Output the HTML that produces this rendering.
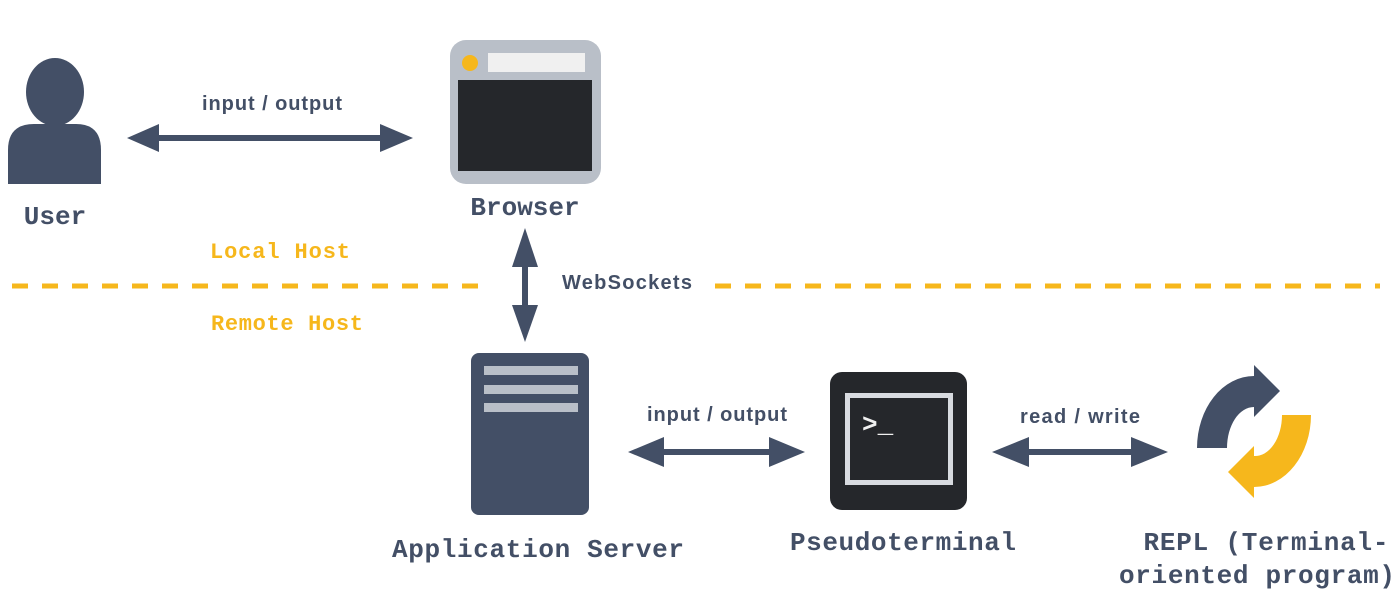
<!DOCTYPE html>
<html><head><style>html,body{margin:0;padding:0;background:#fff;}svg{display:block}</style></head>
<body>
<svg width="1400" height="607" viewBox="0 0 1400 607" xmlns="http://www.w3.org/2000/svg">
<!-- User -->
<ellipse cx="55" cy="92" rx="29" ry="34" fill="#434f66"/>
<path d="M8 184 V150 Q8 124 34 124 H76 Q101 124 101 150 V184 Z" fill="#434f66"/>
<text x="55" y="224" font-family="Liberation Mono, monospace" font-weight="bold" font-size="26" fill="#434f66" text-anchor="middle">User</text>
<!-- arrow user-browser -->
<rect x="155" y="135" width="225" height="6" fill="#434f66"/>
<polygon points="127,138 159,124 159,152" fill="#434f66"/>
<polygon points="413,138 380,124 380,152" fill="#434f66"/>
<text x="272" y="110" font-family="Liberation Sans, sans-serif" font-weight="bold" font-size="20" fill="#434f66" text-anchor="middle" textLength="140">input / output</text>
<!-- Browser -->
<rect x="450" y="40" width="151" height="144" rx="16" fill="#b9bfc8"/>
<circle cx="470" cy="63" r="8" fill="#f6b71c"/>
<rect x="488" y="53" width="97" height="19" fill="#f0f0f0"/>
<rect x="458" y="80" width="134" height="91" fill="#25272b"/>
<text x="525" y="215" font-family="Liberation Mono, monospace" font-weight="bold" font-size="26" fill="#434f66" text-anchor="middle">Browser</text>
<!-- vertical arrow -->
<rect x="522" y="255" width="6" height="62" fill="#434f66"/>
<polygon points="525,228 512,267 538,267" fill="#434f66"/>
<polygon points="525,342 512,305 538,305" fill="#434f66"/>
<text x="562" y="289" font-family="Liberation Sans, sans-serif" font-weight="bold" font-size="20" fill="#434f66" textLength="130">WebSockets</text>
<!-- dashes -->
<line x1="12" y1="286" x2="492" y2="286" stroke="#f6b71c" stroke-width="5" stroke-dasharray="16,14"/>
<line x1="715" y1="286" x2="1380" y2="286" stroke="#f6b71c" stroke-width="5" stroke-dasharray="16,14"/>
<text x="280" y="258" font-family="Liberation Mono, monospace" font-weight="bold" font-size="22" fill="#f6b71c" text-anchor="middle" textLength="140">Local Host</text>
<text x="287" y="330" font-family="Liberation Mono, monospace" font-weight="bold" font-size="22" fill="#f6b71c" text-anchor="middle" textLength="152">Remote Host</text>
<!-- Server -->
<rect x="471" y="353" width="118" height="162" rx="8" fill="#434f66"/>
<rect x="484" y="366" width="94" height="9" fill="#b9bfc8"/>
<rect x="484" y="385" width="94" height="9" fill="#b9bfc8"/>
<rect x="484" y="403" width="94" height="9" fill="#b9bfc8"/>
<text x="538" y="557" font-family="Liberation Mono, monospace" font-weight="bold" font-size="26" fill="#434f66" text-anchor="middle" textLength="292">Application Server</text>
<!-- arrow server-pty -->
<rect x="655" y="449" width="125" height="6" fill="#434f66"/>
<polygon points="628,452 664,437 664,467" fill="#434f66"/>
<polygon points="805,452 769,437 769,467" fill="#434f66"/>
<text x="717" y="421" font-family="Liberation Sans, sans-serif" font-weight="bold" font-size="20" fill="#434f66" text-anchor="middle" textLength="140">input / output</text>
<!-- Pseudoterminal -->
<rect x="830" y="372" width="137" height="138" rx="12" fill="#25272b"/>
<rect x="847.5" y="395.5" width="103" height="87" fill="none" stroke="#d8dbe0" stroke-width="5"/>
<text x="862" y="432" font-family="Liberation Mono, monospace" font-weight="bold" font-size="26" fill="#f0f0f0">&gt;_</text>
<text x="903" y="550" font-family="Liberation Mono, monospace" font-weight="bold" font-size="26" fill="#434f66" text-anchor="middle" textLength="226">Pseudoterminal</text>
<!-- arrow pty-repl -->
<rect x="1020" y="449" width="120" height="6" fill="#434f66"/>
<polygon points="992,452 1029,437 1029,467" fill="#434f66"/>
<polygon points="1168,452 1131,437 1131,467" fill="#434f66"/>
<text x="1080" y="423" font-family="Liberation Sans, sans-serif" font-weight="bold" font-size="20" fill="#434f66" text-anchor="middle" textLength="120">read / write</text>
<!-- REPL icon -->
<path d="M1197 448 A57 72 0 0 1 1254 376 L1254 407 A27 41 0 0 0 1227 448 Z" fill="#434f66"/>
<polygon points="1254,365 1280,391 1254,417" fill="#434f66"/>
<path d="M1311 415 A57 72 0 0 1 1254 487 L1254 456 A27 41 0 0 0 1282 415 Z" fill="#f6b71c"/>
<polygon points="1254,498 1228,472 1254,446" fill="#f6b71c"/>
<text x="1266" y="550" font-family="Liberation Mono, monospace" font-weight="bold" font-size="26" fill="#434f66" text-anchor="middle" textLength="245">REPL (Terminal-</text>
<text x="1257" y="583" font-family="Liberation Mono, monospace" font-weight="bold" font-size="26" fill="#434f66" text-anchor="middle" textLength="276">oriented program)</text>
</svg>
</body></html>
